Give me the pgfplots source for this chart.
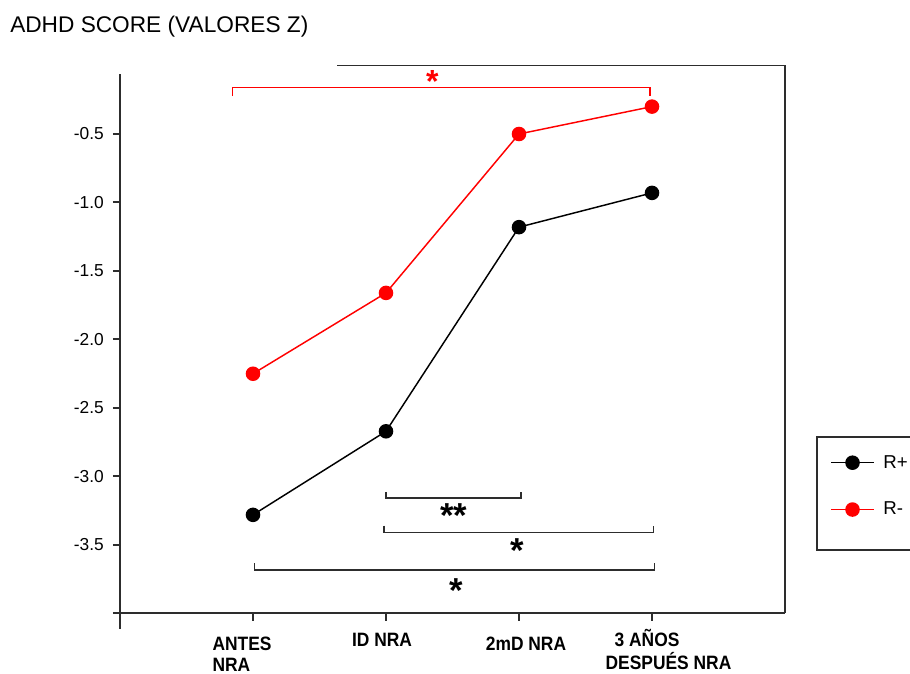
\documentclass[border=0pt]{standalone}
\usepackage{pgfplots}
\pgfplotsset{compat=1.18}
\usepackage{fontspec}
\setmainfont{Liberation Sans}
\newfontfamily\narrowbold[FakeStretch=0.9]{Liberation Sans Bold}
\newfontfamily\boldsans{Liberation Sans Bold}
\definecolor{axgray}{RGB}{45,45,45}
\definecolor{myred}{RGB}{255,0,0}
\begin{document}
\begin{tikzpicture}
\useasboundingbox (-90pt,-45.375pt) rectangle (592.5pt,460.125pt);
\node[anchor=base west, font=\fontsize{17pt}{20pt}\selectfont, inner sep=0pt] at (-82.5pt,436.1pt) {ADHD SCORE (VALORES Z)};
\begin{axis}[
  at={(0pt,0pt)}, anchor=south west,
  scale only axis, width=498.75pt, height=411pt,
  xmin=-1, xmax=4, ymin=-4, ymax=0,
  clip=false,
  axis x line*=bottom, axis y line*=left,
  y axis line style={draw=none},
  x axis line style={line width=1.5pt, color=axgray, -},
  xtick={0,1,2,3},
  xticklabels={
    {\hspace*{-16.5pt}\begin{tabular}[t]{@{}l@{}}ANTES\\NRA\end{tabular}},
    {\hspace*{-6pt}\raisebox{3pt}{\begin{tabular}[t]{@{}l@{}}ID NRA\end{tabular}}},
    {\hspace*{10.5pt}\begin{tabular}[t]{@{}l@{}}2mD NRA\end{tabular}},
    {\hspace*{24.75pt}\raisebox{3pt}{\begin{tabular}[t]{@{}l@{}}\hspace*{6.75pt}3 AÑOS\\DESPUÉS NRA\end{tabular}}}
  },
  ytick={-4,-3.5,-3,-2.5,-2,-1.5,-1,-0.5},
  yticklabels={,-3.5,-3.0,-2.5,-2.0,-1.5,-1.0,-0.5},
  tick align=outside,
  major tick length=5.25pt,
  tick style={line width=1.5pt, color=axgray},
  xticklabel style={anchor=base, yshift=-22.4pt, font=\narrowbold\fontsize{14.5pt}{16.2pt}\selectfont},
  yticklabel style={anchor=east, inner sep=0pt, xshift=-6.75pt, font=\fontsize{13pt}{15pt}\selectfont},
  legend style={at={(1.0677,0.2892)}, anchor=north west, draw=none, fill=none,
    inner sep=0pt, row sep=24pt, column sep=6.5pt,
    nodes={inner sep=0pt}, font=\fontsize{14pt}{16pt}\selectfont},
  legend cell align=left,
  legend image code/.code={\draw[mark repeat=2,mark phase=2,#1] plot coordinates {(0pt,0pt) (16.125pt,0pt) (32.25pt,0pt)};},
]
\addplot[color=black, line width=1.1pt, mark=*, mark size=4.9pt, mark options={solid, fill=black}]
  coordinates {(0,-3.28) (1,-2.67) (2,-1.18) (3,-0.93)};
\addlegendentry{R+}
\addplot[color=myred, line width=1.1pt, mark=*, mark size=4.9pt, mark options={solid, fill=myred}]
  coordinates {(0,-2.25) (1,-1.66) (2,-0.50) (3,-0.30)};
\addlegendentry{R-}
% axis frame pieces
\draw[line width=1.5pt, color=axgray] (axis cs:-1,-0.064) -- (axis cs:-1,-4.11);
\draw[line width=1.1pt, color=axgray] (axis cs:0.632,0) -- (axis cs:4,0) -- (axis cs:4,-4);
% legend frame
\draw[line width=1.1pt, color=axgray] (axis cs:5.1,-2.712) -- (axis cs:4.2406,-2.712) -- (axis cs:4.2406,-3.536) -- (axis cs:5.1,-3.536);
% significance brackets
\draw[myred, line width=1.1pt] (axis cs:-0.156,-0.223) -- (axis cs:-0.156,-0.159) -- (axis cs:2.985,-0.159) -- (axis cs:2.985,-0.223);
\node[anchor=base, text=myred, font=\boldsans\fontsize{24pt}{24pt}\selectfont, inner sep=0pt, yshift=-13.6pt] at (axis cs:1.348,-0.064) {*};
\draw[axgray, line width=1.1pt] (axis cs:1.0,-3.113) -- (axis cs:1.0,-3.157) -- (axis cs:2.015,-3.157) -- (axis cs:2.015,-3.113);
\node[anchor=base, font=\boldsans\fontsize{26pt}{26pt}\selectfont, inner sep=0pt, yshift=-14.7pt] at (axis cs:1.511,-3.230) {**};
\draw[axgray, line width=1.1pt] (axis cs:0.985,-3.359) -- (axis cs:0.985,-3.407) -- (axis cs:3.010,-3.407) -- (axis cs:3.010,-3.359);
\node[anchor=base, font=\boldsans\fontsize{26pt}{26pt}\selectfont, inner sep=0pt, yshift=-14.7pt] at (axis cs:1.987,-3.482) {*};
\draw[axgray, line width=1.1pt] (axis cs:0.01,-3.634) -- (axis cs:0.01,-3.682) -- (axis cs:3.020,-3.682) -- (axis cs:3.020,-3.634);
\node[anchor=base, font=\boldsans\fontsize{26pt}{26pt}\selectfont, inner sep=0pt, yshift=-14.7pt] at (axis cs:1.531,-3.780) {*};
\end{axis}
\end{tikzpicture}
\end{document}
